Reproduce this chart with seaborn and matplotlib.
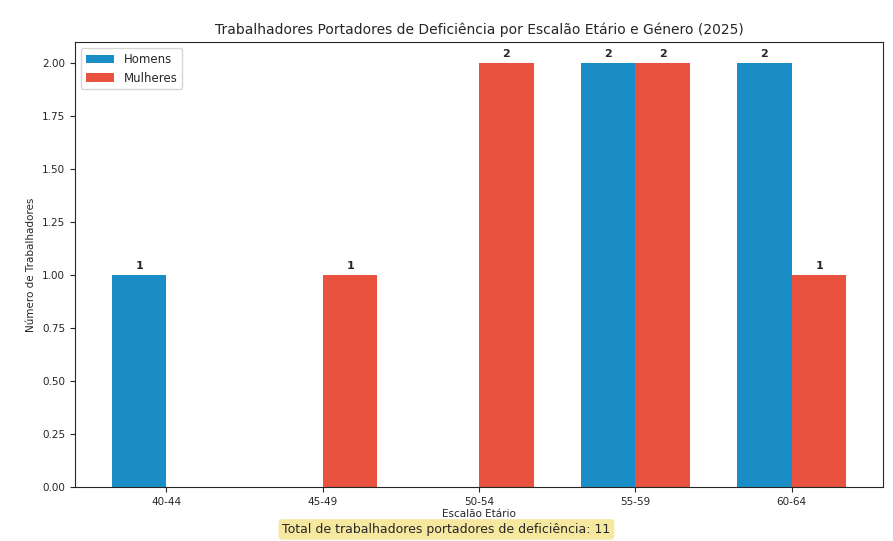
import pandas as pd
import matplotlib.pyplot as plt
import seaborn as sns

# Dados por escalão etário
escaloes = ['40-44', '45-49', '50-54', '55-59', '60-64']
homens = [1, 0, 0, 2, 2]
mulheres = [0, 1, 2, 2, 1]
generos = ['Homens', 'Mulheres']
cores = ['#1a8dc6', '#e8523f']

sns.set_style("ticks")
plt.rcParams['font.family'] = ['DejaVu Sans']

df = pd.DataFrame({
    'Escalão': escaloes * 2,
    'Género': ['Homens'] * len(escaloes) + ['Mulheres'] * len(escaloes),
    'Total': homens + mulheres,
})

fig, ax = plt.subplots(figsize=(8.93, 5.41), dpi=100)
fig.subplots_adjust(left=0.084, right=0.989, top=0.922, bottom=0.100)

sns.barplot(data=df, x='Escalão', y='Total', hue='Género', order=escaloes,
            hue_order=generos, palette=cores, width=0.7, saturation=1,
            linewidth=0, edgecolor='none', ax=ax)

# valores por cima das barras (só os diferentes de zero)
for cont in ax.containers:
    labels = [str(int(b.get_height())) if b.get_height() > 0 else '' for b in cont]
    ax.bar_label(cont, labels=labels, padding=3, fontsize=8, fontweight='bold')

ax.set_xlim(-0.585, 4.585)
ax.set_ylim(0, 2.1)
ax.set_title('Trabalhadores Portadores de Deficiência por Escalão Etário e Género (2025)',
             fontsize=10)
ax.set_xlabel('Escalão Etário', fontsize=7.5, labelpad=2)
ax.set_ylabel('Número de Trabalhadores', fontsize=7.5)
ax.tick_params(labelsize=7.5)
ax.legend(loc='upper left', fontsize=8.5, handlelength=2.4)

total = sum(homens) + sum(mulheres)
fig.text(0.5, 0.015, f'Total de trabalhadores portadores de deficiência: {total}',
         ha='center', fontsize=9,
         bbox=dict(boxstyle='round', facecolor='#f7e8a0', alpha=1, edgecolor='none'))

plt.savefig('out.png')
plt.close()
